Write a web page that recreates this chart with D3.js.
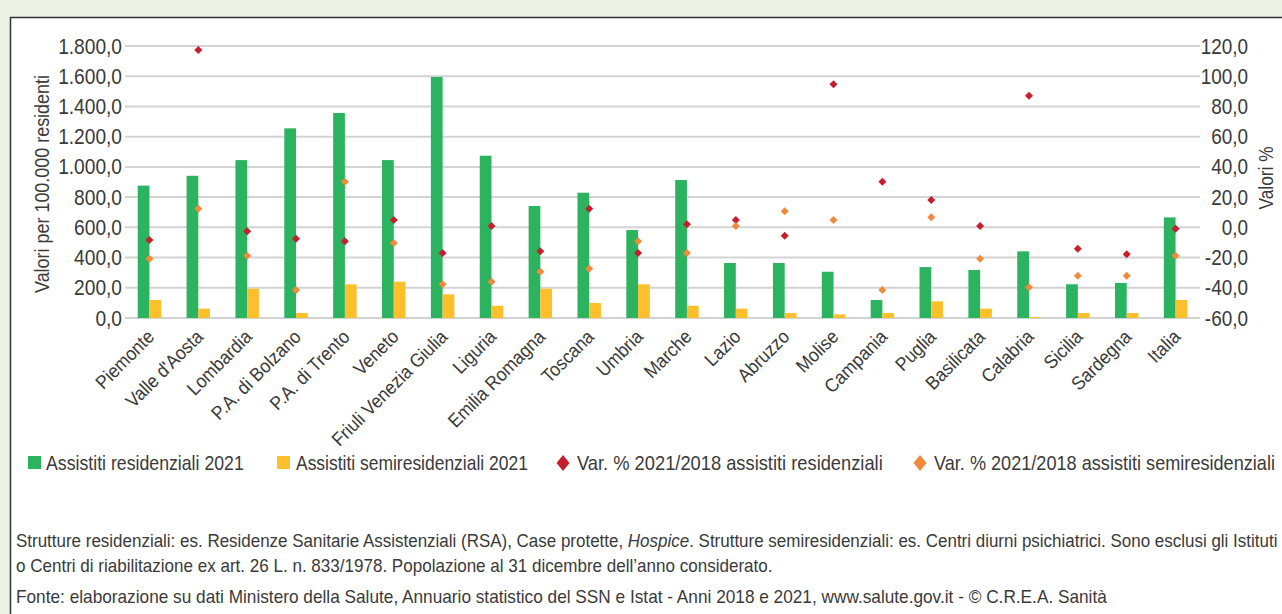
<!DOCTYPE html>
<html>
<head>
<meta charset="utf-8">
<script src="https://cdn.jsdelivr.net/npm/d3@7"></script>
<style>
  html, body { margin: 0; padding: 0; background: #ebf2e5; }
  svg { display: block; }
  text { font-family: "Liberation Sans", Arial, sans-serif; fill: #3a3a3a; }
</style>
</head>
<body>
<svg id="chart" width="1282" height="614"></svg>
<script>
const categories = ["Piemonte","Valle d'Aosta","Lombardia","P.A. di Bolzano","P.A. di Trento","Veneto","Friuli Venezia Giulia","Liguria","Emilia Romagna","Toscana","Umbria","Marche","Lazio","Abruzzo","Molise","Campania","Puglia","Basilicata","Calabria","Sicilia","Sardegna","Italia"];
const residenziali = [876, 941, 1045, 1255, 1357, 1045, 1595, 1074, 741, 829, 582, 913, 364, 364, 306, 119, 337, 318, 441, 223, 232, 666];
const semiresidenziali = [119, 62, 194, 33, 223, 240, 157, 81, 194, 99, 223, 81, 62, 33, 24, 33, 110, 62, 7, 33, 33, 119];
const varResidenziali = [-8.4, 117.4, -2.6, -7.5, -9.2, 4.9, -17.0, 0.9, -15.9, 12.3, -17.0, 2.0, 4.9, -5.5, 94.7, 30.2, 18.1, 0.9, 87.1, -14.1, -17.8, -0.9];
const varSemiresidenziali = [-20.8, 12.3, -18.8, -41.5, 30.2, -10.4, -37.7, -36.0, -29.4, -27.4, -9.2, -17.0, 0.9, 10.6, 4.9, -41.5, 6.6, -20.8, -39.7, -32.0, -32.0, -18.8];
const leftTicks = [0, 200, 400, 600, 800, 1000, 1200, 1400, 1600, 1800];
const rightTicks = [-60, -40, -20, 0, 20, 40, 60, 80, 100, 120];
const seriesNames = ["Assistiti residenziali 2021", "Assistiti semiresidenziali 2021", "Var. % 2021/2018 assistiti residenziali", "Var. % 2021/2018 assistiti semiresidenziali"];
const footLines = [
  ["Strutture residenziali: es. Residenze Sanitarie Assistenziali (RSA), Case protette, ", "Hospice", ". Strutture semiresidenziali: es. Centri diurni psichiatrici. Sono esclusi gli Istituti"],
  ["o Centri di riabilitazione ex art. 26 L. n. 833/1978. Popolazione al 31 dicembre dell\u2019anno considerato."],
  ["Fonte: elaborazione su dati Ministero della Salute, Annuario statistico del SSN e Istat - Anni 2018 e 2021, www.salute.gov.it - \u00a9 C.R.E.A. Sanit\u00e0"]
];

const colors = { green: "#2bb360", yellow: "#fdbf2b", red: "#c51f2d", orange: "#f18a3b", grid: "#d3d3d3" };

// emulate a condensed face: shrink each text horizontally
function condense(sel, k) {
  sel.each(function () {
    const L = this.getComputedTextLength();
    d3.select(this).attr("textLength", L * k).attr("lengthAdjust", "spacingAndGlyphs");
  });
}
function fitTo(sel, w) { sel.attr("textLength", w).attr("lengthAdjust", "spacingAndGlyphs"); }
// place a text at (x,y) and squeeze it horizontally to width w with a transform
function squeezeText(parent, x0, y0, w, size, build) {
  const t = parent.append("text").attr("x", 0).attr("y", 0).attr("font-size", size);
  build(t);
  const L = t.node().getComputedTextLength();
  t.attr("transform", `translate(${x0},${y0}) scale(${w / L},1)`);
  return t;
}

const svg = d3.select("#chart");
// panel
svg.append("rect").attr("x", 10.5).attr("y", 17.5).attr("width", 1300).attr("height", 620)
  .attr("fill", "#fff").attr("stroke", "#333").attr("stroke-width", 1.5);

const plot = { left: 125, right: 1200, top: 46, bottom: 318 };
const x = d3.scaleBand().domain(categories).range([plot.left, plot.right]).paddingInner(0.52).paddingOuter(0.26);
const xs = d3.scaleBand().domain([0, 1]).range([0, x.bandwidth()]);
const yL = d3.scaleLinear().domain([0, 1800]).range([plot.bottom, plot.top]);
const yR = d3.scaleLinear().domain([-60, 120]).range([plot.bottom, plot.top]);

// gridlines
svg.append("g").selectAll("line").data(leftTicks).join("line")
  .attr("x1", plot.left).attr("x2", plot.right)
  .attr("y1", d => yL(d)).attr("y2", d => yL(d))
  .attr("stroke", colors.grid).attr("stroke-width", 2);

// left axis
const axL = svg.append("g").attr("transform", `translate(${plot.left - 3},0)`)
  .call(d3.axisLeft(yL).tickValues(leftTicks).tickSize(0).tickPadding(0)
    .tickFormat(d => d3.format(",.1f")(d).replace(/,/g, "#").replace(".", ",").replace(/#/g, ".")));
axL.select(".domain").remove();
axL.selectAll("text").attr("font-size", 22).attr("fill", "#3a3a3a").attr("font-family", null);
condense(axL.selectAll("text"), 0.87);

// right axis
const axR = svg.append("g").attr("transform", `translate(${plot.right + 48},0)`)
  .call(d3.axisLeft(yR).tickValues(rightTicks).tickSize(0).tickPadding(0)
    .tickFormat(d => d3.format(".1f")(d).replace(".", ",").replace("\u2212", "-")));
axR.select(".domain").remove();
axR.selectAll("text").attr("font-size", 22).attr("fill", "#3a3a3a").attr("font-family", null);
condense(axR.selectAll("text"), 0.86);

// axis titles
fitTo(svg.append("text").attr("transform", `translate(49,${(plot.top + plot.bottom) / 2 + 2}) rotate(-90)`)
  .attr("text-anchor", "middle").attr("font-size", 21).text("Valori per 100.000 residenti"), 218);
fitTo(svg.append("text").attr("transform", `translate(1273,${(plot.top + plot.bottom) / 2 - 4}) rotate(-90)`)
  .attr("text-anchor", "middle").attr("font-size", 21).text("Valori %"), 63);

// bars
const g = svg.append("g");
g.selectAll("rect.res").data(residenziali).join("rect").attr("class", "res")
  .attr("x", (d, i) => x(categories[i]) + xs(0)).attr("width", xs.bandwidth())
  .attr("y", d => yL(d)).attr("height", d => yL(0) - yL(d)).attr("fill", colors.green);
g.selectAll("rect.semi").data(semiresidenziali).join("rect").attr("class", "semi")
  .attr("x", (d, i) => x(categories[i]) + xs(1)).attr("width", xs.bandwidth())
  .attr("y", d => yL(d)).attr("height", d => yL(0) - yL(d)).attr("fill", colors.yellow);

// diamonds
const diamond = (w, h) => `M0,${-h / 2}L${w / 2},0L0,${h / 2}L${-w / 2},0Z`;
g.selectAll("path.vres").data(varResidenziali).join("path").attr("class", "vres")
  .attr("d", diamond(8, 8))
  .attr("transform", (d, i) => `translate(${x(categories[i]) + x.bandwidth() / 2},${yR(d)})`)
  .attr("fill", colors.red);
g.selectAll("path.vsemi").data(varSemiresidenziali).join("path").attr("class", "vsemi")
  .attr("d", diamond(8, 8))
  .attr("transform", (d, i) => `translate(${x(categories[i]) + x.bandwidth() / 2},${yR(d)})`)
  .attr("fill", colors.orange);

// x labels
const xl = svg.append("g").selectAll("text").data(categories).join("text")
  .attr("transform", d => `translate(${x(d) + x.bandwidth() / 2 + 6},338) rotate(-45)`)
  .attr("text-anchor", "end").attr("font-size", 19).text(d => d);
condense(xl, 0.92);

// legend
const legY = 463;
const leg = svg.append("g");
const legItems = [
  { sym: "rect", sx: 28, color: colors.green, tx: 46, w: 198 },
  { sym: "rect", sx: 277, color: colors.yellow, tx: 296, w: 232 },
  { sym: "diamond", sx: 563, color: colors.red, tx: 577, w: 306 },
  { sym: "diamond", sx: 920, color: colors.orange, tx: 934, w: 341 }
];
legItems.forEach((it, i) => {
  if (it.sym === "rect") {
    leg.append("rect").attr("x", it.sx).attr("y", legY - 7).attr("width", 13).attr("height", 13).attr("fill", it.color);
  } else {
    leg.append("path").attr("d", diamond(13, 16)).attr("transform", `translate(${it.sx},${legY})`).attr("fill", it.color);
  }
  squeezeText(leg, it.tx, legY + 7, it.w, 20, t => t.text(seriesNames[i]));
});

// footer
const footY = [547, 572, 603];
const footW = [1262, 757, 1092];
footLines.forEach((parts, li) => {
  squeezeText(svg, 16, footY[li], footW[li], 18, t => {
    parts.forEach(p => {
      const ts = t.append("tspan").text(p);
      if (p === "Hospice") ts.attr("font-style", "italic");
    });
  });
});
</script>
</body>
</html>
